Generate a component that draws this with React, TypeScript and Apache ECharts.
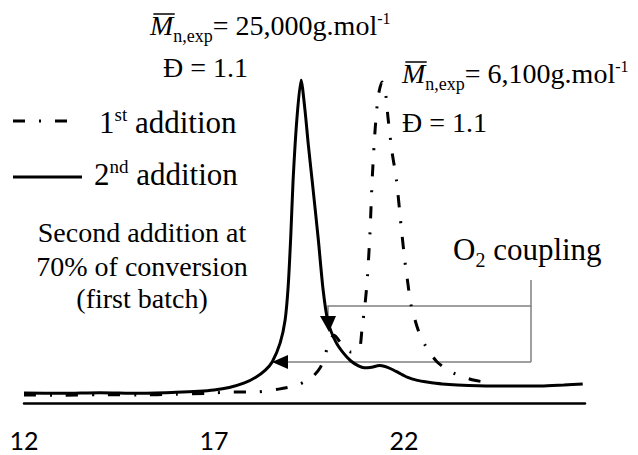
import React, { useEffect, useRef } from "react";
import * as echarts from "echarts";

// ---- data ----
const xTickValues = [12, 17, 22];
const seriesNames = ["1st addition", "2nd addition"];

// 2nd addition (solid)
const solidX = [12.0, 13.0, 14.0, 15.0, 16.0, 16.6, 17.0, 17.4, 17.8, 18.1, 18.35, 18.53, 18.74, 18.87, 18.95, 19.02, 19.08, 19.18, 19.29, 19.39, 19.48, 19.58, 19.74, 19.87, 20.0, 20.2, 20.4, 20.6, 20.8, 20.95, 21.15, 21.35, 21.5, 21.65, 21.85, 22.08, 22.35, 22.6, 23.0, 23.4, 24.3, 25.0, 25.6, 26.2, 26.7];
const solidY = [3.1, 3.0, 3.2, 3.0, 3.3, 3.6, 4.0, 4.8, 6.2, 8.0, 10.2, 12.7, 18.6, 25.7, 36, 52, 69, 88, 100, 91, 80, 69, 51, 35, 25, 19, 15.5, 13, 11.5, 10.9, 11.1, 11.6, 11.3, 10.6, 9.4, 8.0, 7.0, 6.5, 5.9, 5.6, 5.3, 5.3, 5.3, 5.6, 5.9];

// 1st addition (dash-dot)
const dashX = [12.0, 13.0, 14.0, 15.0, 16.0, 16.8, 17.5, 18.1, 18.7, 19.2, 19.58, 19.8, 19.93, 20.02, 20.16, 20.37, 20.6, 20.75, 20.84, 20.89, 20.97, 21.03, 21.1, 21.16, 21.24, 21.32, 21.42, 21.5, 21.58, 21.68, 21.8, 21.92, 22.02, 22.1, 22.18, 22.37, 22.55, 22.87, 23.29, 23.82, 24.13];
const dashY = [2.5, 2.4, 2.6, 2.5, 2.7, 3.0, 3.4, 3.4, 4.3, 5.6, 8.0, 11.1, 15, 19, 21, 18, 15.8, 16, 17.3, 22.6, 30.3, 38, 52, 69, 85, 95, 99.4, 97, 88, 78, 69, 55, 44, 37, 30.5, 22.6, 18, 12.7, 9.3, 7.1, 6.5];

const SERIF = "Liberation Serif";
const DASH_DOT = [12, 14, 2, 14];

let measureCtx: CanvasRenderingContext2D | null = null;
function textW(t: string, fs: number, italic?: boolean) {
  if (!measureCtx) measureCtx = document.createElement("canvas").getContext("2d");
  measureCtx!.font = `${italic ? "italic " : ""}${fs}px "${SERIF}"`;
  return measureCtx!.measureText(t).width;
}
type Part = { t: string; fs: number; dy?: number; italic?: boolean };
function tStyle(t: string, fs: number, italic?: boolean, align = "left") {
  return {
    text: t,
    fontFamily: SERIF,
    fontSize: fs,
    fontStyle: italic ? "italic" : "normal",
    fill: "#000",
    align,
    verticalAlign: "middle",
  };
}
function runText(x0: number, base: number, parts: Part[]) {
  const els: any[] = [];
  let x = x0;
  for (const p of parts) {
    els.push({
      type: "text",
      x,
      y: base + (p.dy || 0) - 0.3375 * p.fs,
      silent: true,
      style: tStyle(p.t, p.fs, p.italic),
    });
    x += textW(p.t, p.fs, p.italic);
  }
  return { els, end: x };
}
function centerText(cx: number, base: number, t: string, fs: number) {
  return { type: "text", x: cx, y: base - 0.3375 * fs, silent: true, style: tStyle(t, fs, false, "center") };
}
function mbar(x0: number, base: number, fs: number) {
  const w = textW("M", fs, true);
  return {
    type: "line",
    silent: true,
    shape: { x1: x0 + 0.12 * fs, y1: base - 0.75 * fs, x2: x0 + w + 0.05 * fs, y2: base - 0.75 * fs },
    style: { stroke: "#000", lineWidth: 1.5 },
  };
}

export default function App() {
  const ref = useRef<HTMLDivElement>(null);
  useEffect(() => {
    document.body.style.margin = "0";
    const chart = echarts.init(ref.current!, null, { renderer: "svg" });
    const FS = 28, SUB = 18, SUP = 16;

    const g: any[] = [];
    // annotation 1
    const a1 = runText(150, 35, [
      { t: "M", fs: FS, italic: true },
      { t: "n,exp", fs: SUB, dy: 7 },
      { t: "= 25,000g.mol", fs: FS },
      { t: "-1", fs: SUP, dy: -11 },
    ]);
    g.push(...a1.els, mbar(150, 35, FS));
    g.push(...runText(163, 77, [{ t: "Đ = 1.1", fs: FS }]).els);
    // annotation 2
    const a2 = runText(402, 83, [
      { t: "M", fs: FS, italic: true },
      { t: "n,exp", fs: SUB, dy: 7 },
      { t: "= 6,100g.mol", fs: FS },
      { t: "-1", fs: SUP, dy: -11 },
    ]);
    g.push(...a2.els, mbar(402, 83, FS));
    g.push(...runText(402, 132, [{ t: "Đ = 1.1", fs: FS }]).els);

    // legend
    const LF = 31, LS = 19;
    g.push({ type: "line", silent: true, shape: { x1: 13, y1: 121, x2: 70, y2: 121 }, style: { stroke: "#000", lineWidth: 3, lineDash: DASH_DOT } });
    g.push(...runText(99, 133, [
      { t: "1", fs: LF },
      { t: "st", fs: LS, dy: -12 },
      { t: " addition", fs: LF },
    ]).els);
    g.push({ type: "line", silent: true, shape: { x1: 13, y1: 177, x2: 82, y2: 177 }, style: { stroke: "#000", lineWidth: 3 } });
    g.push(...runText(94, 185, [
      { t: "2", fs: LF },
      { t: "nd", fs: LS, dy: -12 },
      { t: " addition", fs: LF },
    ]).els);

    // description
    g.push(centerText(142, 242, "Second addition at", FS));
    g.push(centerText(142, 276, "70% of conversion", FS));
    g.push(centerText(142, 308, "(first batch)", FS));

    // O2 coupling
    g.push(...runText(453, 260, [
      { t: "O", fs: 31 },
      { t: "2", fs: 20, dy: 7 },
      { t: " coupling", fs: 31 },
    ]).els);

    // bracket
    const gray = "#808080";
    g.push({ type: "polyline", silent: true, shape: { points: [[328, 318], [328, 306], [531, 306], [531, 280]] }, style: { stroke: gray, lineWidth: 1.5, fill: null } });
    g.push({ type: "line", silent: true, shape: { x1: 531, y1: 306, x2: 531, y2: 362 }, style: { stroke: gray, lineWidth: 1.5 } });
    g.push({ type: "line", silent: true, shape: { x1: 531, y1: 362, x2: 286, y2: 362 }, style: { stroke: gray, lineWidth: 1.5 } });
    g.push({ type: "polygon", silent: true, shape: { points: [[272, 362], [288, 355], [288, 369]] }, style: { fill: "#000" } });
    g.push({ type: "polygon", silent: true, shape: { points: [[320, 316], [336, 316], [329, 332]] }, style: { fill: "#000" } });

    const option: any = {
      animation: false,
      grid: { left: 24, right: 53, top: 80, bottom: 52 },
      xAxis: {
        type: "value",
        min: 12,
        max: 26.76,
        axisLine: { show: true, onZero: false, lineStyle: { color: "#000", width: 2.5 } },
        axisTick: { show: false },
        splitLine: { show: false },
        axisLabel: {
          customValues: xTickValues,
          color: "#000",
          fontFamily: "Lato",
          fontSize: 25,
          margin: 24,
        },
      },
      yAxis: { type: "value", min: 0, max: 100, show: false, splitLine: { show: false } },
      series: [
        {
          name: seriesNames[0],
          type: "line",
          data: dashX.map((x, i) => [x, dashY[i]]),
          showSymbol: false,
          smooth: 0.25,
          lineStyle: { color: "#000", width: 3, type: DASH_DOT },
          z: 2,
        },
        {
          name: seriesNames[1],
          type: "line",
          data: solidX.map((x, i) => [x, solidY[i]]),
          showSymbol: false,
          smooth: 0.25,
          lineStyle: { color: "#000", width: 3 },
          z: 3,
        },
      ],
      graphic: g,
    };
    chart.setOption(option);
    return () => chart.dispose();
  }, []);
  return <div ref={ref} style={{ width: 638, height: 455 }} />;
}
